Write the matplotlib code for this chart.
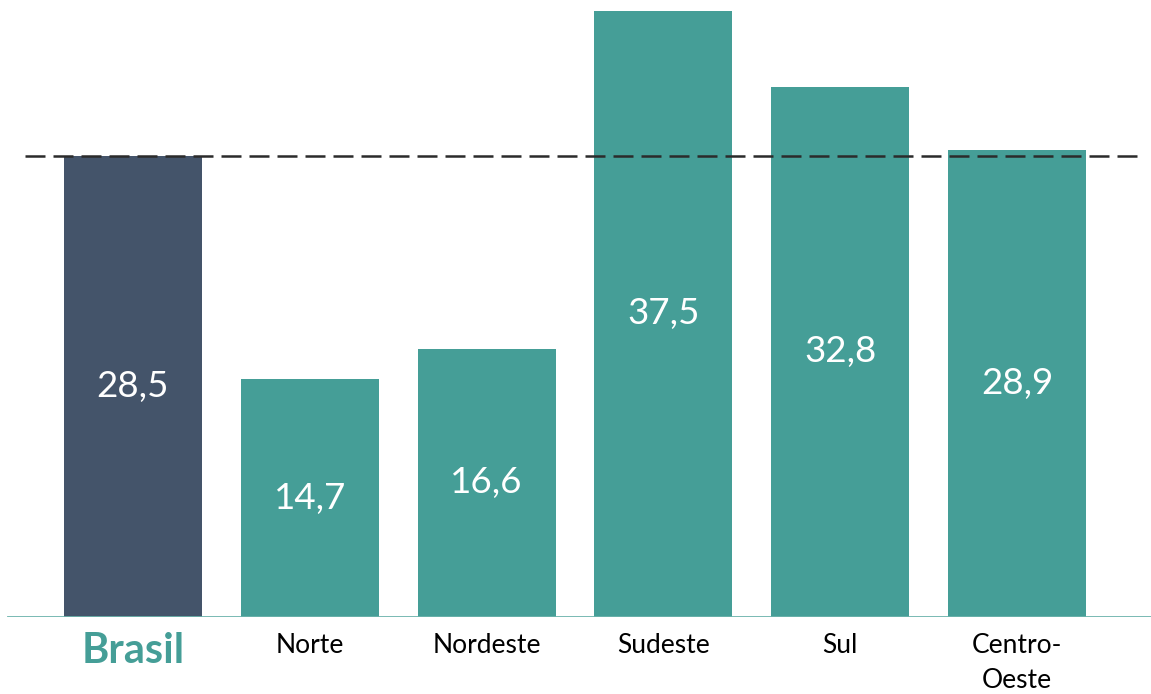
import numpy as np
import matplotlib
matplotlib.use('Agg')
import matplotlib.pyplot as plt
import matplotlib.transforms as mtransforms

plt.rcParams['font.family'] = ['Lato', 'DejaVu Sans']

# Dados
regioes = ['Brasil', 'Norte', 'Nordeste', 'Sudeste', 'Sul', 'Centro-\nOeste']
valores = [28.5, 14.7, 16.6, 37.5, 32.8, 28.9]
referencia = valores[0]  # linha tracejada = média do Brasil

cor_brasil = '#44546A'
cor_regiao = '#459E97'
cor_base = '#6DB3AC'

fig = plt.figure(figsize=(11.51, 6.94), dpi=100)
ax = fig.add_axes([0, 0.111, 1, 0.889])

x = np.arange(len(regioes))
cores = [cor_brasil] + [cor_regiao] * (len(regioes) - 1)
ax.bar(x, valores, width=0.78, color=cores, zorder=2)

ax.set_xlim(-0.752, 5.758)
ax.set_ylim(0, 38.18)
ax.axis('off')

# linha de base e média
ax.axhline(0, xmin=8 / 1151, xmax=1, color=cor_base, lw=2, zorder=3)
ax.axhline(referencia, xmin=25 / 1151, xmax=1141 / 1151, color='#2b2b2b',
           lw=1.8, dashes=(8, 3.2), zorder=4)

# valores dentro das barras
for xi, v in zip(x, valores):
    ax.text(xi, v / 2, f'{v:.1f}'.replace('.', ','), ha='center', va='center',
            color='white', fontsize=26.5, zorder=5)

# rótulos das categorias
trans = mtransforms.blended_transform_factory(ax.transData, fig.transFigure)
for xi, nome in zip(x, regioes):
    if nome == 'Brasil':
        ax.text(xi, 1 - 632 / 694, nome, transform=trans, ha='center', va='top',
                fontsize=30, fontweight='bold', color=cor_regiao)
    else:
        ax.text(xi, 1 - 633 / 694, nome, transform=trans, ha='center', va='top',
                fontsize=19, color='black', linespacing=1.5)

fig.savefig('out.png', dpi=100)
